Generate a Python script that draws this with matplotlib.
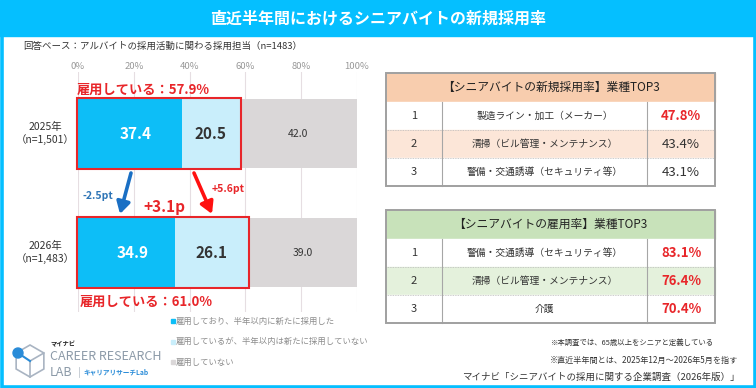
import numpy as np
import matplotlib.pyplot as plt
from matplotlib.patches import Rectangle, Circle, Polygon

plt.rcParams['font.family'] = ['Noto Sans CJK JP', 'DejaVu Sans']

# データ
years = ['2025年\n（n=1,501）', '2026年\n（n=1,483）']
new_hire = [37.4, 34.9]      # 雇用しており、半年以内に新たに採用した
no_new = [20.5, 26.1]        # 雇用しているが、半年以内は新たに採用していない
not_emp = [42.0, 39.0]       # 雇用していない
employed = [57.9, 61.0]
legend_labels = ['雇用しており、半年以内に新たに採用した',
                 '雇用しているが、半年以内は新たに採用していない',
                 '雇用していない']
ticks = [0, 20, 40, 60, 80, 100]

t1_title = '【シニアバイトの新規採用率】業種TOP3'
t1_names = ['製造ライン・加工（メーカー）', '清掃（ビル管理・メンテナンス）', '警備・交通誘導（セキュリティ等）']
t1_vals = [47.8, 43.4, 43.1]
t2_title = '【シニアバイトの雇用率】業種TOP3'
t2_names = ['警備・交通誘導（セキュリティ等）', '清掃（ビル管理・メンテナンス）', '介護']
t2_vals = [83.1, 76.4, 70.4]

C_DARK = '#0DBEF7'
C_LIGHT = '#C9EEFB'
C_GRAY = '#DAD7D8'
CYAN = '#05BFFF'
RED = '#E8262A'

W, H = 756, 388
fig = plt.figure(figsize=(W / 100, H / 100), dpi=100)
bg = fig.add_axes([0, 0, 1, 1])
bg.set_xlim(0, W)
bg.set_ylim(H, 0)
bg.axis('off')

# 枠とタイトル
bg.add_patch(Rectangle((0, 0), W, 36, color=CYAN, zorder=1))
bg.add_patch(Rectangle((1.5, 1.5), W - 3, H - 3, fill=False, ec=CYAN, lw=2.6, zorder=1))
bg.text(W / 2, 18, '直近半年間におけるシニアバイトの新規採用率', color='white',
        fontsize=11.5, fontweight='bold', ha='center', va='center')
bg.text(23, 46, '回答ベース：アルバイトの採用活動に関わる採用担当（n=1483）',
        fontsize=6.8, color='#333333', va='center')

# 棒グラフ
ax = fig.add_axes([78 / W, 1 - 312 / H, 279 / W, 240 / H])
ax.set_xlim(0, 100)
ax.set_ylim(1.5, -0.517)
ypos = np.arange(len(years))
bh = 0.58
ax.barh(ypos, new_hire, height=bh, color=C_DARK, zorder=2)
ax.barh(ypos, no_new, left=new_hire, height=bh, color=C_LIGHT, zorder=2)
left3 = np.array(new_hire) + np.array(no_new)
ax.barh(ypos, not_emp, left=left3, height=bh, color=C_GRAY, zorder=2)
for s in ax.spines.values():
    s.set_visible(False)
ax.set_facecolor('none')
ax.xaxis.tick_top()
ax.set_xticks(ticks)
ax.set_xticklabels([f'{t}%' for t in ticks], fontsize=6.8, color='#999999')
ax.tick_params(axis='x', length=0, pad=1)
ax.set_yticks([])
ax.grid(axis='x', color='#E6DEE2', lw=0.8, zorder=0)

for i in ypos:
    ax.text(new_hire[i] / 2 + 2, i, f'{new_hire[i]:.1f}', color='white', fontsize=11,
            fontweight='bold', ha='center', va='center', zorder=3)
    ax.text(new_hire[i] + no_new[i] / 2, i, f'{no_new[i]:.1f}', color='#333333', fontsize=11,
            fontweight='bold', ha='center', va='center', zorder=3)
    ax.text(left3[i] + not_emp[i] / 2, i, f'{not_emp[i]:.1f}', color='#333333', fontsize=7.5,
            ha='center', va='center', zorder=3)
    ax.add_patch(Rectangle((-0.4, i - bh / 2 - 0.01), employed[i] + 0.8, bh + 0.02,
                           fill=False, ec=RED, lw=1.5, zorder=4, clip_on=False))
    ax.text(-0.3 if i == 0 else 0.5, i - bh / 2 - 0.075 if i == 0 else i + bh / 2 + 0.12,
            f'雇用している：{employed[i]:.1f}%', color=RED, fontsize=9.5,
            fontweight='bold', ha='left', va='center', zorder=4)
    bg.text(45, 133.5 + 119 * i, years[i], fontsize=7.5, color='#333333',
            ha='center', va='center', linespacing=1.3)

# 増減の矢印
d_new = new_hire[1] - new_hire[0]
d_no = no_new[1] - no_new[0]
d_emp = employed[1] - employed[0]
bg.annotate('', xy=(120, 214), xytext=(131, 173),
            arrowprops=dict(arrowstyle='-|>,head_width=0.4,head_length=0.7',
                            lw=2.6, color='#1A6FC4', shrinkA=0, shrinkB=0))
bg.annotate('', xy=(212, 214), xytext=(194, 173),
            arrowprops=dict(arrowstyle='-|>,head_width=0.4,head_length=0.7',
                            lw=2.6, color='#FF1010', shrinkA=0, shrinkB=0))
bg.text(98, 196, f'{d_new:+.1f}pt', color='#2E75B6', fontsize=7.5, fontweight='bold',
        ha='center', va='center')
bg.text(228, 189, f'{d_no:+.1f}pt', color=RED, fontsize=7.5, fontweight='bold',
        ha='center', va='center')
bg.text(164, 207, f'{d_emp:+.1f}p', color=RED, fontsize=11, fontweight='bold',
        ha='center', va='center')

# 凡例
for k, (lab, col) in enumerate(zip(legend_labels, [C_DARK, C_LIGHT, C_GRAY])):
    yy = 321 + 20.5 * k
    bg.add_patch(Rectangle((170.5, yy - 2), 4, 4, color=col))
    bg.text(176, yy, lab, fontsize=6, color='#8C8C8C', va='center')

# ロゴ
hx, hy, r = 30, 361, 16
hexpts = [(hx + r * np.cos(np.radians(a)), hy + r * np.sin(np.radians(a))) for a in range(30, 390, 60)]
bg.add_patch(Polygon(hexpts, closed=True, fill=False, ec='#A9B4C2', lw=1.2))
bg.plot([hx, hx + r * np.cos(np.radians(-30))], [hy, hy + r * np.sin(np.radians(-30))], color='#A9B4C2', lw=1.2)
bg.plot([hx, hx], [hy, hy + r], color='#A9B4C2', lw=1.2)
bg.plot([18, hx], [353, hy], color='#2A8CD8', lw=1.5)
bg.add_patch(Circle((18, 353), 5, color='#2A8CD8', zorder=3))
bg.text(50, 344, 'マイナビ', fontsize=4.5, fontweight='bold', color='#222222', va='center')
bg.text(50, 356, 'CAREER RESEARCH', fontsize=9, color='#8C9AA8', va='center')
bg.text(50, 372, 'LAB', fontsize=9, color='#8C9AA8', va='center')
bg.plot([79, 79], [367, 377], color='#C0C8D0', lw=0.6)
bg.text(83, 372, 'キャリアリサーチLab', fontsize=4.8, fontweight='bold', color='#2A8CD8', va='center')


# 表
def draw_table(top, title, names, vals, head_col, band_col, all_red):
    x0, x1 = 386, 715
    c1, c2 = 442, 647
    hh, rh = 29, 28
    bg.add_patch(Rectangle((x0, top), x1 - x0, hh, color=head_col, zorder=2))
    bg.text((x0 + x1) / 2, top + hh / 2, title, fontsize=8.5, color='#222222',
            ha='center', va='center', zorder=3)
    for j, (nm, v) in enumerate(zip(names, vals)):
        ry = top + hh + rh * j
        bg.add_patch(Rectangle((x0, ry), x1 - x0, rh,
                               color=band_col if j == 1 else 'white', zorder=2))
        if j > 0:
            bg.plot([x0, x1], [ry, ry], color='#BBBBBB', lw=0.6, ls=(0, (1, 1)), zorder=3)
        bg.text((x0 + c1) / 2, ry + rh / 2, str(j + 1), fontsize=8, color='#333333',
                ha='center', va='center', zorder=3)
        bg.text((c1 + c2) / 2, ry + rh / 2, nm, fontsize=7, color='#333333',
                ha='center', va='center', zorder=3)
        red = all_red or j == 0
        bg.text((c2 + x1) / 2, ry + rh / 2, f'{v:.1f}%', fontsize=9.5,
                color=RED if red else '#333333', fontweight='bold' if red else 'normal',
                ha='center', va='center', zorder=3)
    bottom = top + hh + rh * len(names)
    for cx in (c1, c2):
        bg.plot([cx, cx], [top + hh, bottom], color='#A6A6A6', lw=0.8, zorder=3)
    bg.add_patch(Rectangle((x0, top), x1 - x0, bottom - top, fill=False,
                           ec='#A0A0A0', lw=1.4, zorder=4))


draw_table(73, t1_title, t1_names, t1_vals, '#F8CDAE', '#FCE6D8', False)
draw_table(210, t2_title, t2_names, t2_vals, '#C8E2BA', '#E4F1DC', True)

# 注記
bg.text(551, 343, '※本調査では、65歳以上をシニアと定義している', fontsize=5.3, color='#333333', va='center')
bg.text(550, 360, '※直近半年間とは、2025年12月～2026年5月を指す', fontsize=5.85, color='#333333', va='center')
bg.text(740, 377, 'マイナビ「シニアバイトの採用に関する企業調査（2026年版）」', fontsize=6.8,
        color='#333333', ha='right', va='center')

fig.savefig('out.png', dpi=100)
